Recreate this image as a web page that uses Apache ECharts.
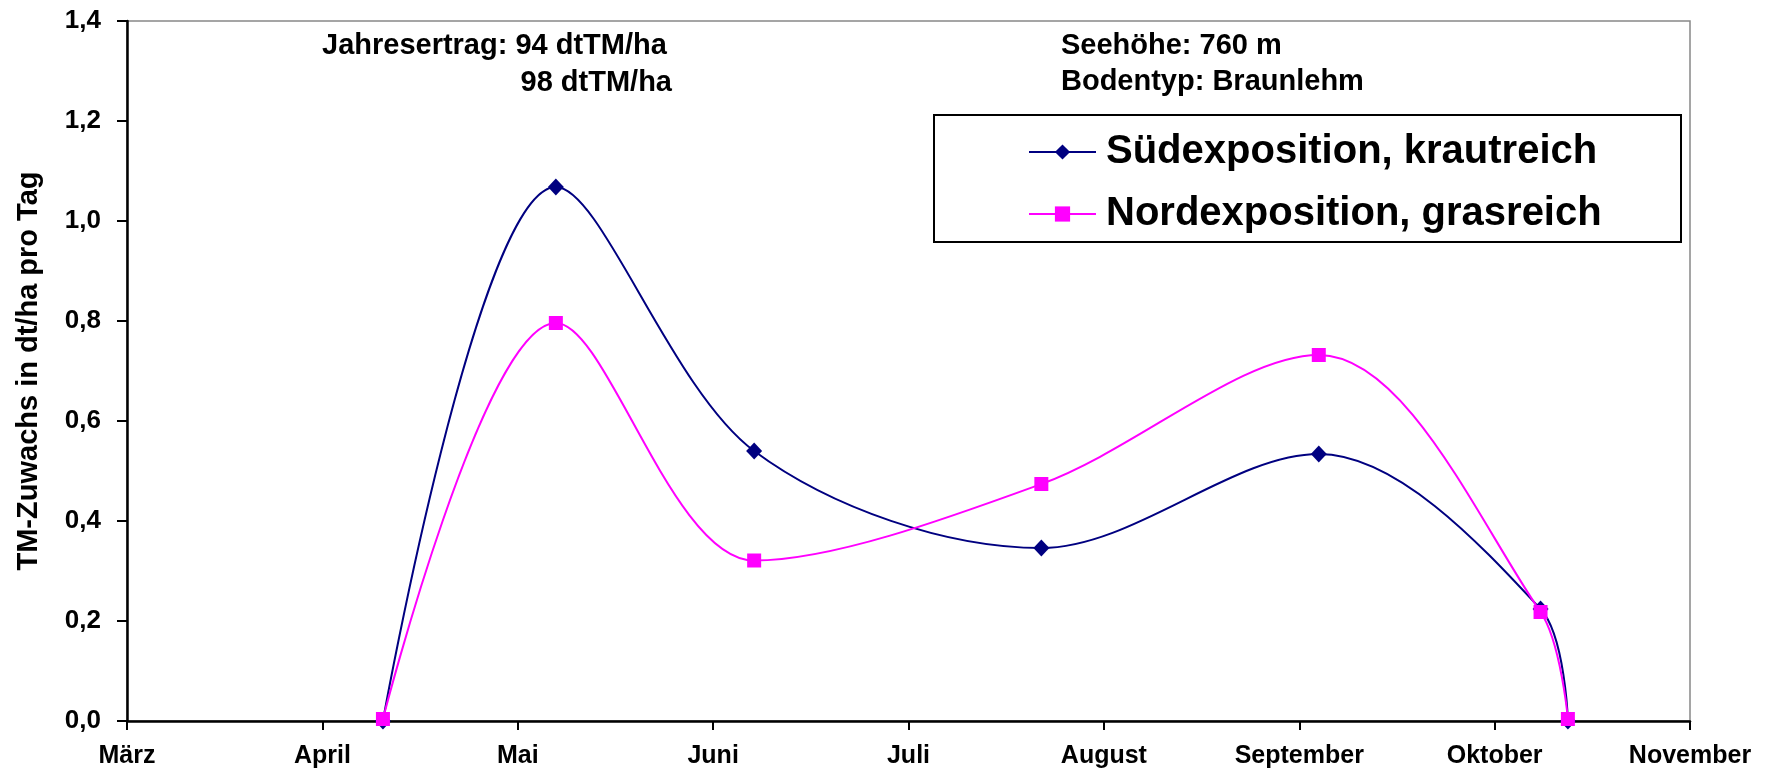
<!DOCTYPE html>
<html>
<head>
<meta charset="utf-8">
<script src="https://cdn.jsdelivr.net/npm/echarts@6/dist/echarts.min.js"></script>
<style>
  html, body { margin: 0; padding: 0; background: #fff; }
  #chart { width: 1769px; height: 768px; }
</style>
</head>
<body>
<div id="chart"></div>
<script>
// Monate der x-Achse (0 = 1. März)
var months = ['März', 'April', 'Mai', 'Juni', 'Juli', 'August', 'September', 'Oktober', 'November'];
// Schnitt-/Messtermine in Monaten ab 1. März
var termine = [1.31, 2.195, 3.21, 4.68, 6.10, 7.235, 7.375];
// TM-Zuwachs in dt/ha pro Tag
var sued = [0, 1.068, 0.540, 0.346, 0.534, 0.224, 0];
var nord = [0.004, 0.796, 0.321, 0.474, 0.732, 0.218, 0.004];

var font = '"Liberation Sans", Arial, sans-serif';

function pairs(xs, ys) {
    return xs.map(function (x, i) { return [x, ys[i]]; });
}

var myChart = echarts.init(document.getElementById('chart'));

myChart.setOption({
    animation: false,
    grid: {
        left: 127,
        right: 79,
        top: 21,
        bottom: 47,
        show: true,
        borderColor: '#888',
        borderWidth: 1.5,
        outerBoundsMode: 'none'
    },
    xAxis: {
        type: 'value',
        min: 0,
        max: 8,
        interval: 1,
        splitLine: { show: false },
        axisLine: { lineStyle: { color: '#000', width: 2.5 } },
        axisTick: { length: 9, lineStyle: { color: '#000', width: 2 } },
        axisLabel: {
            margin: 23,
            color: '#000',
            fontFamily: font,
            fontWeight: 'bold',
            fontSize: 25,
            formatter: function (v) { return months[v]; }
        }
    },
    yAxis: {
        type: 'value',
        min: 0,
        max: 1.4,
        interval: 0.2,
        name: 'TM-Zuwachs in dt/ha pro Tag',
        nameLocation: 'middle',
        nameGap: 84,
        nameTextStyle: { color: '#000', fontFamily: font, fontWeight: 'bold', fontSize: 29 },
        splitLine: { show: false },
        axisLine: { show: true, lineStyle: { color: '#000', width: 2.5 } },
        axisTick: { show: true, length: 10, lineStyle: { color: '#000', width: 2 } },
        axisLabel: {
            margin: 26,
            color: '#000',
            fontFamily: font,
            fontWeight: 'bold',
            fontSize: 26,
            formatter: function (v) { return v.toFixed(1).replace('.', ','); }
        }
    },
    legend: {
        orient: 'vertical',
        left: 1028,
        top: 132,
        padding: 0,
        itemGap: 22,
        itemWidth: 67,
        itemHeight: 19,
        textStyle: { color: '#000', fontFamily: font, fontWeight: 'bold', fontSize: 40, padding: [0, 0, 0, 5] },
        data: ['Südexposition, krautreich', 'Nordexposition, grasreich']
    },
    graphic: [
        {
            type: 'rect',
            z: 0,
            shape: { x: 934, y: 115, width: 747, height: 127 },
            style: { fill: '#fff', stroke: '#000', lineWidth: 2 }
        },
        {
            type: 'text', left: 322, top: 31,
            style: { text: 'Jahresertrag: 94 dtTM/ha', font: 'bold 29px ' + font, fill: '#000' }
        },
        {
            type: 'text', right: 1769 - 672, top: 68,
            style: { text: '98 dtTM/ha', font: 'bold 29px ' + font, fill: '#000' }
        },
        {
            type: 'text', left: 1061, top: 31,
            style: { text: 'Seehöhe: 760 m', font: 'bold 29px ' + font, fill: '#000' }
        },
        {
            type: 'text', left: 1061, top: 67,
            style: { text: 'Bodentyp: Braunlehm', font: 'bold 29px ' + font, fill: '#000' }
        }
    ],
    series: [
        {
            name: 'Südexposition, krautreich',
            type: 'line',
            smooth: 0.33,
            symbol: 'diamond',
            symbolSize: [16, 17],
            color: '#000080',
            lineStyle: { width: 2, color: '#000080' },
            itemStyle: { color: '#000080' },
            data: pairs(termine, sued)
        },
        {
            name: 'Nordexposition, grasreich',
            type: 'line',
            smooth: 0.33,
            symbol: 'rect',
            symbolSize: 14,
            color: '#ff00ff',
            lineStyle: { width: 2, color: '#ff00ff' },
            itemStyle: { color: '#ff00ff' },
            data: pairs(termine, nord)
        }
    ]
});
</script>
</body>
</html>
